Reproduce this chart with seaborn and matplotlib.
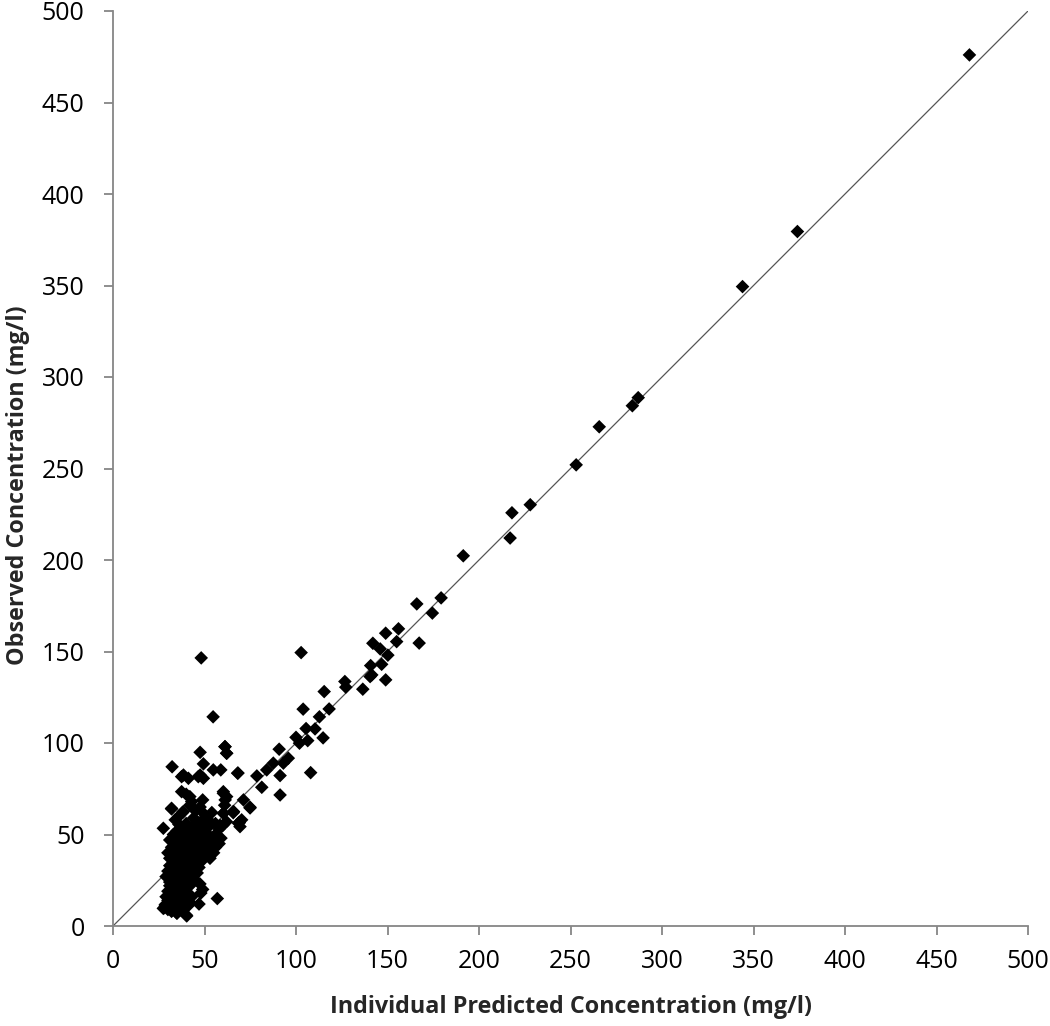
import numpy as np
import pandas as pd
import matplotlib
matplotlib.use("Agg")
import matplotlib.pyplot as plt
import seaborn as sns

# individual predicted (x) vs observed (y)
low_x = [28, 29, 30, 31, 32, 33, 34, 35, 36, 37, 38, 40, 41, 42, 30, 33, 35, 28.5, 47, 57, 27.5, 40.3, 34.8]
low_y = [10, 12, 9, 11, 8, 13, 10, 7, 12, 9, 14, 6, 11, 13, 14, 15, 14, 11.5, 12, 15, 9.6, 5.5, 7.1]

b2_x = [29, 30, 31, 32, 33, 34, 35, 36, 37, 38, 39, 40, 41, 42, 43, 31, 34, 36, 47.5, 49, 48]
b2_y = [16, 19, 22, 17, 20, 24, 18, 21, 23, 17, 20, 24, 18, 22, 16, 24, 15.5, 25, 23, 20, 18]

b3_x = [29, 30, 31, 32, 33, 34, 35, 36, 37, 38, 39, 40, 41, 42, 43, 44, 45, 46, 47, 36, 38, 40, 33, 48]
b3_y = [27, 30, 33, 28, 31, 26, 34, 29, 32, 27, 35, 30, 33, 28, 31, 26, 34, 29, 32, 35, 33, 27, 34, 35]

b4_x = [30, 31, 32, 33, 34, 35, 36, 37, 38, 39, 40, 41, 42, 43, 44, 45, 46, 47, 48, 49, 50, 51, 52, 53,
        35, 37, 39, 41, 43, 45, 55, 56, 58]
b4_y = [40, 37, 43, 39, 41, 36, 44, 38, 42, 37, 45, 39, 43, 36, 41, 38, 44, 40, 36, 42, 39, 44, 41, 37,
        42, 45, 40, 36, 44, 42, 40, 43, 45]

b5_x = [31, 33, 34, 35, 36, 37, 38, 39, 40, 41, 42, 43, 44, 45, 46, 47, 48, 49, 50, 51, 52, 53, 54, 56,
        58, 59, 60, 62, 27.5, 42, 38]
b5_y = [47, 50, 46, 52, 48, 54, 49, 46, 51, 53, 47, 50, 55, 48, 52, 46, 50, 54, 47, 51, 49, 55, 46, 50,
        53, 48, 55, 57, 53.4, 52, 45.5]

b6_x = [32, 34, 36, 38, 40, 42, 43, 44, 45, 46, 47.6, 49, 50, 52, 54, 56, 58.5, 60.3, 61, 65.8, 69, 70.3,
        38.4, 48, 36, 32]
b6_y = [64, 58, 60, 62, 56, 66, 68, 59, 63, 57, 65, 68.9, 61, 58, 62, 56, 55, 61.6, 66, 62.5, 56.5, 58,
        62.5, 57, 55.5, 64.3]

b7_x = [37.5, 40, 42, 41.2, 46.6, 49.4, 37.5, 38.5, 47.6, 32.3, 49.4, 54.8, 58.9, 60.3, 61.3, 62.1, 68.3,
        47.6, 61.2, 62.1, 54.7, 48.2, 74.9, 68.5, 69.4, 65.7]
b7_y = [73.4, 72, 70.7, 80.7, 81.6, 80.7, 81.6, 82.5, 82.5, 87, 88.6, 85.3, 85.3, 73.4, 68.9, 70.7, 83.6,
        94.9, 98, 94.4, 114.3, 146.5, 64.5, 56.2, 54.3, 61.9]

mid_x = [102.8, 166, 174.5, 149, 156, 142, 146, 155, 150.2, 167.3, 140.8, 146.8, 141.4, 140.5, 149, 136.5,
         126.7, 127.2, 115.4, 118.1, 103.9, 112.8, 105.5, 110.4, 100, 101.9, 106.4, 114.8, 90.8, 95.8,
         93.1, 87.6, 84, 91.3, 108, 78.6, 81.3, 91.3, 68.1, 71.3, 74.9, 65.8, 60.3, 60.3, 69, 62.1, 61.2]
mid_y = [149.4, 176, 171, 160, 162.4, 154.5, 151.4, 155.4, 148, 154.6, 142.3, 143, 137.2, 136.3, 134.5,
         129.4, 133.6, 130.5, 128.1, 118.6, 118.5, 114.3, 107.9, 107.7, 103.1, 99.9, 101.3, 102.8, 96.6,
         91.7, 89, 89, 85.3, 82.2, 83.8, 82, 75.8, 71.6, 83.5, 68.9, 64.9, 62.5, 72.5, 61.6, 56.5, 94.4, 98]

high_x = [468, 374, 344, 265.7, 283.8, 287, 253.1, 228, 218, 217, 191.4, 179.3]
high_y = [476, 379.5, 349.4, 272.8, 284.3, 288.7, 252, 230.2, 225.8, 212, 202.3, 179.3]

line_x = [0, 500]
line_y = [0, 500]

xs = low_x + b2_x + b3_x + b4_x + b5_x + b6_x + b7_x + mid_x + high_x
ys = low_y + b2_y + b3_y + b4_y + b5_y + b6_y + b7_y + mid_y + high_y
df = pd.DataFrame({"pred": xs, "obs": ys})

sns.set_style("white")
plt.rcParams["font.family"] = ["Open Sans", "DejaVu Sans"]

fig = plt.figure(figsize=(10.5, 10.26), dpi=100)
ax = fig.add_axes([113 / 1050, 100 / 1026, 915 / 1050, 915 / 1026])

sns.lineplot(x=line_x, y=line_y, ax=ax, color="#555555", linewidth=0.9)
sns.scatterplot(data=df, x="pred", y="obs", ax=ax, marker="D", color="black",
                edgecolor="none", s=48, zorder=3)

ax.set_xlim(0, 500)
ax.set_ylim(0, 500)
ax.set_xticks(range(0, 501, 50))
ax.set_yticks(range(0, 501, 50))
for side in ["top", "right"]:
    ax.spines[side].set_visible(False)
for side in ["left", "bottom"]:
    ax.spines[side].set_color("#868686")
    ax.spines[side].set_linewidth(1.3)
ax.tick_params(axis="both", direction="out", length=6.5, width=1.3, color="#868686",
               labelsize=18, labelcolor="black", left=True, bottom=True)
ax.tick_params(axis="y", pad=14)
ax.tick_params(axis="x", pad=10)
ax.set_xlabel("Individual Predicted Concentration (mg/l)", fontsize=16.8, fontweight="bold")
ax.set_ylabel("Observed Concentration (mg/l)", fontsize=16.8, fontweight="bold")
ax.xaxis.set_label_coords(0.5, -0.075)
ax.yaxis.set_label_coords(-0.091, 0.482)
for lab in ax.get_xticklabels() + ax.get_yticklabels():
    lab.set_clip_on(False)

fig.savefig("out.png", dpi=100)
